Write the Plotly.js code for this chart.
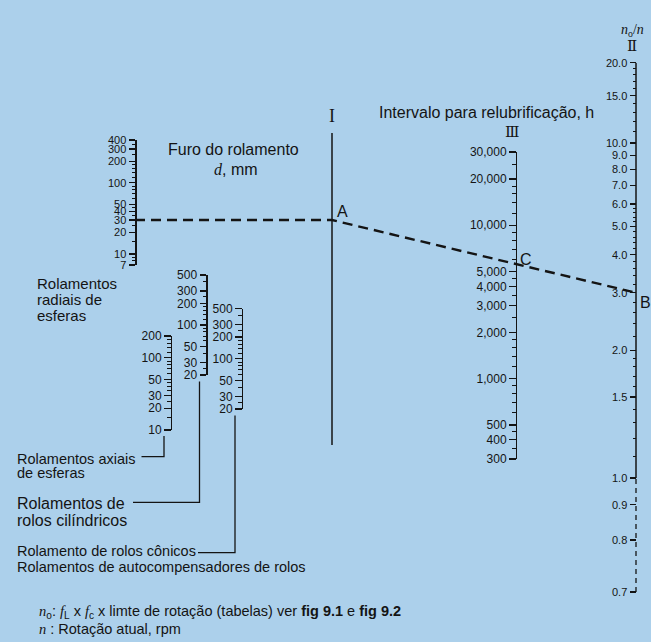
<!DOCTYPE html>
<html><head><meta charset="utf-8">
<script src="https://cdn.plot.ly/plotly-3.0.1.min.js"></script>
<style>html,body{margin:0;padding:0;background:#acd0eb;}#chart{width:651px;height:642px;}</style>
</head><body><div id="chart"></div>
<script>
// ---------------- data ----------------
const boreTicks = [7, 10, 20, 30, 40, 50, 100, 200, 300, 400];
const boreMinor = [8, 9, 15, 25, 35, 45, 60, 70, 80, 90, 120, 140, 160, 180, 250, 350];
const axialTicks = [10, 20, 30, 50, 100, 200];
const axialMinor = [15, 25, 35, 40, 45, 60, 70, 80, 90, 120, 140, 160, 180];
const cylTicks = [20, 30, 50, 100, 200, 300, 500];
const cylMinor = [25, 40, 60, 70, 80, 90, 120, 140, 160, 180, 250, 400];
const taperTicks = [20, 30, 50, 100, 200, 300, 500];
const taperMinor = [25, 40, 60, 70, 80, 90, 120, 140, 160, 180, 250, 400];
const intervalTicks = [300, 400, 500, 1000, 2000, 3000, 4000, 5000, 10000, 20000, 30000];
const intervalMinor = [350, 450, 600, 700, 800, 900, 1200, 1400, 1600, 1800, 2500, 3500, 4500, 6000, 7000, 8000, 9000, 12000, 14000, 16000, 18000, 25000];
const ratioTicks = [0.7, 0.8, 0.9, 1.0, 1.5, 2.0, 3.0, 4.0, 5.0, 6.0, 7.0, 8.0, 9.0, 10.0, 15.0, 20.0];
const ratioMinor = [1.1, 1.2, 1.3, 1.4, 1.6, 1.7, 1.8, 1.9, 2.2, 2.4, 2.6, 2.8, 3.2, 3.4, 3.6, 3.8, 4.2, 4.4, 4.6, 4.8, 5.2, 5.4, 5.6, 5.8, 11, 12, 13, 14, 16, 17, 18, 19];
const ratioSolidFrom = 1.0;   // n0/n scale is solid above this value, dashed below
const exampleBore = 30;       // d, mm  (point on bore scale, carried to A)
const exampleRatio = 3.0;     // n0/n   (point B)

// ---------------- layout constants ----------------
const W = 651, H = 642;
const INK = '#141414', BG = '#acd0eb';
const SANS = 'Liberation Sans, Arial, Helvetica, sans-serif';
const SERIF = 'Liberation Serif, DejaVu Serif, serif';
const RATIO_SHIFT = 0.532;
const ratioT = v => Math.log10(v - RATIO_SHIFT);
const logT = v => Math.log10(v);

const geo = {
  bore:     {x: 135,   top: 140,   bot: 265, vTop: 400,   vBot: 7,   f: logT},
  axial:    {x: 170.5, top: 336,   bot: 430, vTop: 200,   vBot: 10,  f: logT},
  cyl:      {x: 206,   top: 275,   bot: 375, vTop: 500,   vBot: 20,  f: logT},
  taper:    {x: 241.5, top: 308.5, bot: 409, vTop: 500,   vBot: 20,  f: logT},
  interval: {x: 515.5, top: 152,   bot: 459, vTop: 30000, vBot: 300, f: logT},
  ratio:    {x: 636,   top: 62.7,  bot: 592, vTop: 20,    vBot: 0.7, f: ratioT}
};
const lineIx = 332, lineItop = 133, lineIbot = 445;

function pixY(g, v) {
  const r0 = g.f(g.vBot), r1 = g.f(g.vTop);
  const fr = (g.f(v) - r0) / (r1 - r0);
  return g.bot - fr * (g.bot - g.top);
}

function scaleAxis(g, ticks, minor, fsize, textFn, isLog) {
  return {
    type: isLog ? 'log' : 'linear',
    anchor: 'free', position: g.x / W, side: 'left',
    domain: [1 - g.bot / H, 1 - g.top / H],
    range: [g.f(g.vBot), g.f(g.vTop)],
    autorange: false,
    tickmode: 'array',
    tickvals: isLog ? ticks : ticks.map(g.f),
    ticktext: ticks.map(textFn),
    ticks: 'outside', ticklen: 6.5, tickwidth: 1.3, tickcolor: INK,
    showline: isLog, linecolor: INK, linewidth: 1.5,
    showgrid: false, zeroline: false,
    tickfont: {family: SANS, size: fsize, color: INK},
    minor: {tickmode: 'array', tickvals: isLog ? minor : minor.map(g.f),
            ticks: 'outside', ticklen: 3.5, tickwidth: 1, tickcolor: INK, showgrid: false},
    fixedrange: true
  };
}

const plain = v => String(v);
const layout = {
  width: W, height: H,
  margin: {l: 0, r: 0, t: 0, b: 0, pad: 0},
  paper_bgcolor: BG, plot_bgcolor: 'rgba(0,0,0,0)',
  showlegend: false,
  xaxis: {range: [0, W], domain: [0, 1], visible: false, fixedrange: true},
  yaxis: {range: [H, 0], domain: [0, 1], visible: false, fixedrange: true},
  yaxis2: scaleAxis(geo.bore, boreTicks, boreMinor, 11, plain, true),
  yaxis3: scaleAxis(geo.axial, axialTicks, axialMinor, 12, plain, true),
  yaxis4: scaleAxis(geo.cyl, cylTicks, cylMinor, 12, plain, true),
  yaxis5: scaleAxis(geo.taper, taperTicks, taperMinor, 12, plain, true),
  yaxis6: scaleAxis(geo.interval, intervalTicks, intervalMinor, 12, v => v.toLocaleString('en-US'), true),
  yaxis7: scaleAxis(geo.ratio, ratioTicks, ratioMinor, 11, v => v.toFixed(1), false),
  shapes: [], annotations: []
};

// axis spine of n0/n scale: solid / dashed parts
layout.shapes.push({type: 'line', xref: 'paper', yref: 'y7', x0: geo.ratio.x / W, x1: geo.ratio.x / W,
  y0: ratioT(ratioSolidFrom), y1: ratioT(geo.ratio.vTop), line: {color: INK, width: 1.5}});
layout.shapes.push({type: 'line', xref: 'paper', yref: 'y7', x0: geo.ratio.x / W, x1: geo.ratio.x / W,
  y0: ratioT(geo.ratio.vBot), y1: ratioT(ratioSolidFrom), line: {color: INK, width: 1.3, dash: '5px,4px'}});
// pivot line I
layout.shapes.push({type: 'line', xref: 'x', yref: 'y', x0: lineIx, x1: lineIx, y0: lineItop, y1: lineIbot,
  line: {color: INK, width: 1.5}});
// leader lines from bearing scales to their labels
function leader(g, yStart, yEnd, xEnd) {
  const xl = g.x - 6.5;
  layout.shapes.push({type: 'path', xref: 'x', yref: 'y',
    path: `M${xl},${yStart} L${xl},${yEnd} L${xEnd},${yEnd}`, line: {color: INK, width: 1.3}});
}
leader(geo.axial, geo.axial.bot + 6, 456.7, 141.5);
leader(geo.cyl, geo.cyl.bot + 6.5, 502.3, 133);
leader(geo.taper, geo.taper.bot + 6.5, 552.7, 198);

function note(text, x, y, size, opts) {
  layout.annotations.push(Object.assign({text, x, y, xref: 'x', yref: 'y', showarrow: false,
    xanchor: 'center', yanchor: 'middle', font: {family: SANS, size, color: INK}}, opts || {}));
}
const it = s => `<span style="font-family:Liberation Serif, DejaVu Serif, serif;font-style:italic">${s}</span>`;

note('Furo do rolamento', 233.5, 149, 16);
note(it('d') + ', mm', 235.5, 169.5, 16);
note('Intervalo para relubrificação, h', 486.5, 112, 16);
note('I', lineIx, 116, 18, {font: {family: SERIF, size: 18, color: INK}});
note('Ⅲ', 512, 132, 15, {font: {family: SERIF, size: 15, color: INK}});
note('Ⅱ', 632, 46, 15, {font: {family: SERIF, size: 15, color: INK}});
note(it('n') + '<sub>o</sub>/' + it('n'), 632, 30, 14, {font: {family: SERIF, size: 14, color: INK}});
note('A', 342.5, 211, 16);
note('C', 526, 259.5, 16);
note('B', 645, 302.5, 16);

const L = {xanchor: 'left'};
note('Rolamentos', 35, 283, 15, L);
note('radiais de', 35, 299, 15, L);
note('esferas', 35, 315, 15, L);
note('Rolamentos axiais', 15, 459, 14.5, L);
note('de esferas', 15, 473, 14.5, L);
note('Rolamentos de', 15, 503, 16, L);
note('rolos cilíndricos', 15, 520, 16, L);
note('Rolamento de rolos cônicos', 15, 550.5, 14.5, L);
note('Rolamentos de autocompensadores de rolos', 15, 566.5, 14.5, L);
note(it('n') + '<sub>o</sub>: ' + it('f') + '<sub>L</sub> x ' + it('f') + '<sub>c</sub> x limte de rotação (tabelas) ver <b>fig 9.1</b> e <b>fig 9.2</b>', 37, 612, 14.5, L);
note(it('n') + ' : Rotação atual, rpm', 37, 629, 14.5, L);

// ---------------- traces ----------------
function holder(yid, g) {
  return {type: 'scatter', mode: 'markers', xaxis: 'x', yaxis: yid, x: [-50], y: [g.vTop],
    marker: {opacity: 0}, hoverinfo: 'skip', showlegend: false};
}
const yA = pixY(geo.bore, exampleBore);
const yB = pixY(geo.ratio, exampleRatio);
const traces = [
  {type: 'scatter', mode: 'lines', xaxis: 'x', yaxis: 'y',
   x: [geo.bore.x, lineIx, geo.ratio.x], y: [yA, yA, yB],
   line: {color: INK, width: 2.4, dash: '10px,6px'}, hoverinfo: 'skip'},
  holder('y2', geo.bore), holder('y3', geo.axial), holder('y4', geo.cyl),
  holder('y5', geo.taper), holder('y6', geo.interval),
  {type: 'scatter', mode: 'markers', xaxis: 'x', yaxis: 'y7', x: [-50], y: [ratioT(geo.ratio.vTop)],
   marker: {opacity: 0}, hoverinfo: 'skip', showlegend: false}
];

Plotly.newPlot('chart', traces, layout, {staticPlot: true, displayModeBar: false});
</script>
</body></html>
